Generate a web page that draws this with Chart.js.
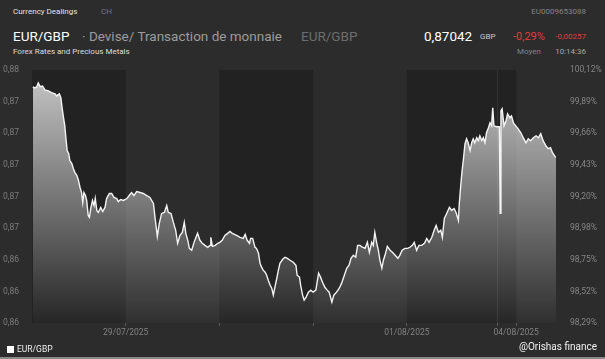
<!DOCTYPE html>
<html>
<head>
<meta charset="utf-8">
<script src="https://cdn.jsdelivr.net/npm/chart.js@4.4.1/dist/chart.umd.min.js"></script>
<style>
  html, body { margin: 0; padding: 0; background: #2c2c2c; }
  body { width: 605px; height: 359px; position: relative; overflow: hidden; font-family: Roboto, "Noto Sans", sans-serif; }
  #chart { position: absolute; left: 0; top: 0; }
  .t { position: absolute; white-space: nowrap; line-height: 1; }
  #legend { position: absolute; left: 7px; top: 345px; font-size: 8.5px; color: #eee; line-height: 1; }
  #legend i { display: inline-block; width: 7px; height: 7px; background: #fff; margin-right: 3px; vertical-align: -1px; }
  #strip { position: absolute; left: 0; top: 357px; width: 605px; height: 2px; background: #8a8a8a; }
</style>
</head>
<body>
<div class="t" style="left:13px;top:8px;font-size:8px;color:#e2e2e2">Currency Dealings</div>
<div class="t" style="left:101px;top:8px;font-size:8px;color:#7a7a7a">CH</div>
<div class="t" style="right:19px;top:8px;font-size:8px;color:#858585">EU0009653088</div>

<div class="t" style="left:13px;top:30px;font-size:13.5px;color:#fff">EUR/GBP</div>
<div class="t" style="left:82px;top:30px;font-size:13.5px;color:#9c9c9c">· Devise/ Transaction de monnaie</div>
<div class="t" style="left:301px;top:30px;font-size:13.5px;color:#6c6c6c">EUR/GBP</div>
<div class="t" style="left:424px;top:30px;font-size:13.5px;color:#fff">0,87042</div>
<div class="t" style="left:480px;top:32.5px;font-size:8px;color:#c8c8c8">GBP</div>
<div class="t" style="left:513px;top:30.5px;font-size:11px;color:#e23b3b">-0,29%</div>
<div class="t" style="right:19px;top:32.5px;font-size:8px;color:#e23b3b">-0,00257</div>

<div class="t" style="left:13px;top:48px;font-size:8px;color:#dcdcdc">Forex Rates and Precious Metals</div>
<div class="t" style="left:517px;top:48px;font-size:8px;color:#848484">Moyen</div>
<div class="t" style="right:19px;top:48px;font-size:8px;color:#a8a8a8">10:14:36</div>

<canvas id="chart" width="605" height="359"></canvas>

<div id="legend"><i></i>EUR/GBP</div>
<div class="t" style="right:8px;top:342px;font-size:10px;color:#f2f2f2">@Orishas finance</div>
<div id="strip"></div>

<script>
// trading hours since Mon 28/07/2025 00:00 (weekend squeezed out after the Friday close)
const hours = [
  0.2, 0.7, 1.2, 1.6, 2.1, 2.7, 3.3, 4.2, 5.0, 5.9,
  6.3, 7.0, 7.4, 7.7, 8.0, 8.4, 8.7, 9.0, 9.4, 9.7,
  10.2, 10.6, 11.0, 11.5, 11.9, 12.3, 12.7, 13.0, 13.3, 13.7,
  14.0, 14.4, 14.7, 15.1, 15.5, 15.9, 16.2, 16.6, 17.0, 17.6,
  18.1, 18.7, 19.1, 19.8, 20.4, 21.0, 21.7, 22.1, 22.7, 23.4,
  24.3, 24.9, 25.5, 26.1, 26.8, 27.7, 28.5, 29.4, 30.2, 31.1,
  31.5, 32.1, 32.6, 33.2, 33.9, 34.5, 34.9, 35.6, 36.2, 36.8,
  37.3, 37.9, 38.5, 39.0, 39.4, 39.9, 40.3, 40.9, 41.5, 42.0,
  42.4, 43.0, 43.6, 44.3, 45.0, 45.6, 45.8, 46.2, 46.9, 47.6,
  48.1, 48.7, 49.4, 50.1, 50.7, 51.3, 52.4, 53.3, 54.1, 54.6,
  55.1, 55.7, 56.0, 56.5, 57.1, 57.5, 58.0, 58.4, 58.8, 59.2,
  59.7, 60.1, 60.5, 61.0, 61.4, 61.8, 62.2, 62.7, 63.1, 63.5,
  64.2, 64.8, 65.4, 66.1, 66.9, 67.6, 67.9, 68.5, 68.8, 69.3,
  69.7, 70.2, 70.8, 71.4, 72.0, 72.7, 73.1, 73.4, 73.9, 74.4,
  75.0, 75.6, 76.1, 76.8, 77.3, 78.0, 78.7, 79.3, 80.0, 80.6,
  81.2, 81.7, 82.3, 82.9, 83.4, 84.0, 84.6, 85.3, 85.9, 86.4,
  87.0, 87.4, 87.8, 88.3, 88.7, 89.1, 89.6, 90.0, 90.4, 91.0,
  91.7, 92.3, 93.0, 93.7, 94.2, 94.8, 95.5, 96.2, 96.8, 97.4,
  97.9, 98.5, 99.1, 99.8, 100.5, 101.1, 101.7, 102.4, 103.0, 103.5,
  104.1, 104.7, 105.1, 105.6, 106.2, 106.9, 107.5, 108.1, 108.6, 109.2,
  109.4, 109.8, 110.1, 110.5, 110.9, 111.3, 111.7, 112.2, 112.6, 113.0,
  113.4, 113.9, 114.3, 114.7, 115.2, 115.6, 116.0, 116.4, 116.9, 117.3,
  117.7, 118.0, 118.3, 119.0, 119.7, 119.9, 120.1, 120.4, 120.9, 121.4,
  121.8, 122.4, 122.8, 123.3, 123.9, 124.5, 125.2, 125.8, 126.5, 127.1,
  127.7, 128.4, 129.1, 129.7, 130.3, 130.9, 131.6, 132.2, 132.8, 133.3,
  133.8, 134.2
];

const rates = [
  0.87393, 0.87387, 0.87393, 0.87418, 0.87395, 0.87399, 0.87374, 0.87368, 0.87357, 0.87349,
  0.87336, 0.87349, 0.87325, 0.87262, 0.87210, 0.87147, 0.87065, 0.86990, 0.86971, 0.86927,
  0.86908, 0.86876, 0.86851, 0.86832, 0.86801, 0.86757, 0.86725, 0.86662, 0.86725, 0.86706,
  0.86675, 0.86580, 0.86568, 0.86631, 0.86675, 0.86643, 0.86687, 0.86612, 0.86599, 0.86631,
  0.86605, 0.86631, 0.86687, 0.86719, 0.86719, 0.86694, 0.86687, 0.86668, 0.86681, 0.86675,
  0.86687, 0.86706, 0.86725, 0.86706, 0.86731, 0.86725, 0.86719, 0.86706, 0.86694, 0.86656,
  0.86568, 0.86448, 0.86530, 0.86593, 0.86599, 0.86643, 0.86599, 0.86593, 0.86536, 0.86486,
  0.86404, 0.86454, 0.86473, 0.86536, 0.86467, 0.86423, 0.86372, 0.86360, 0.86410, 0.86442,
  0.86467, 0.86423, 0.86404, 0.86391, 0.86379, 0.86391, 0.86442, 0.86385, 0.86391, 0.86404,
  0.86410, 0.86423, 0.86454, 0.86467, 0.86479, 0.86467, 0.86454, 0.86442, 0.86435, 0.86460,
  0.86423, 0.86404, 0.86435, 0.86435, 0.86379, 0.86372, 0.86341, 0.86278, 0.86253, 0.86234,
  0.86221, 0.86202, 0.86170, 0.86139, 0.86120, 0.86076, 0.86126, 0.86183, 0.86234, 0.86278,
  0.86303, 0.86316, 0.86309, 0.86297, 0.86284, 0.86265, 0.86202, 0.86190, 0.86139, 0.86076,
  0.86045, 0.86064, 0.86095, 0.86108, 0.86095, 0.86108, 0.86170, 0.86215, 0.86190, 0.86158,
  0.86126, 0.86108, 0.86095, 0.86032, 0.86076, 0.86095, 0.86120, 0.86152, 0.86202, 0.86246,
  0.86265, 0.86309, 0.86328, 0.86316, 0.86391, 0.86391, 0.86379, 0.86372, 0.86410, 0.86347,
  0.86410, 0.86391, 0.86473, 0.86404, 0.86360, 0.86297, 0.86246, 0.86297, 0.86328, 0.86385,
  0.86360, 0.86347, 0.86328, 0.86309, 0.86328, 0.86360, 0.86372, 0.86372, 0.86379, 0.86391,
  0.86410, 0.86360, 0.86391, 0.86391, 0.86404, 0.86435, 0.86410, 0.86442, 0.86486, 0.86517,
  0.86473, 0.86486, 0.86442, 0.86561, 0.86593, 0.86631, 0.86612, 0.86624, 0.86599, 0.86549,
  0.86643, 0.86769, 0.86851, 0.86939, 0.87034, 0.87065, 0.87040, 0.86990, 0.87040, 0.87065,
  0.87040, 0.87072, 0.87053, 0.87084, 0.87053, 0.87072, 0.87040, 0.87103, 0.87135, 0.87166,
  0.87147, 0.87261, 0.87147, 0.87141, 0.87141, 0.86593, 0.87242, 0.87254, 0.87147, 0.87179,
  0.87223, 0.87198, 0.87210, 0.87166, 0.87147, 0.87128, 0.87103, 0.87072, 0.87040, 0.87065,
  0.87053, 0.87072, 0.87084, 0.87072, 0.87097, 0.87053, 0.87021, 0.87002, 0.87009, 0.86977,
  0.86958, 0.86946
];

// day boundaries on the same hour scale: 28/07, 29/07, 30/07, 31/07, 01/08 (+ weekend), 04/08
const dayStarts = [0, 24, 48, 72, 96, 124];
const lastHour = 134.2;
const fridayClose = 119.1;
const dateLabels = { 24: '29/07/2025', 96: '01/08/2025', 124: '04/08/2025' };

const rateTicks = [0.859, 0.861, 0.863, 0.865, 0.867, 0.869, 0.871, 0.873, 0.875];
const rateLabels = ['0,86', '0,86', '0,86', '0,87', '0,87', '0,87', '0,87', '0,87', '0,88'];
const pctLabels = ['98,29%', '98,52%', '98,75%', '98,98%', '99,20%', '99,43%', '99,66%', '99,89%', '100,12%'];

const dayBands = {
  id: 'dayBands',
  beforeDatasetsDraw(chart) {
    const { ctx, chartArea: a, scales: { x } } = chart;
    ctx.save();
    ctx.fillStyle = '#222222';
    for (let i = 0; i < dayStarts.length; i += 2) {
      const x0 = x.getPixelForValue(dayStarts[i]);
      const x1 = x.getPixelForValue(i + 1 < dayStarts.length ? dayStarts[i + 1] : lastHour);
      ctx.fillRect(x0, a.top, x1 - x0, a.bottom - a.top);
    }
    ctx.restore();
  },
  afterDatasetsDraw(chart) {
    const { ctx, chartArea: a, scales: { x } } = chart;
    const px = Math.round(x.getPixelForValue(fridayClose)) + 0.5;
    ctx.save();
    ctx.strokeStyle = 'rgba(255,255,255,0.08)';
    ctx.lineWidth = 1;
    ctx.beginPath();
    ctx.moveTo(px, a.top);
    ctx.lineTo(px, a.bottom);
    ctx.stroke();
    ctx.restore();
  }
};

const fillGradient = (context) => {
  const { chart } = context;
  const a = chart.chartArea;
  if (!a) return 'rgba(255,255,255,0.3)';
  const g = chart.ctx.createLinearGradient(0, a.top, 0, a.bottom);
  g.addColorStop(0, 'rgba(255,255,255,0.75)');
  g.addColorStop(1, 'rgba(255,255,255,0.02)');
  return g;
};

const tickFont = { family: 'Roboto', size: 8.5 };

new Chart(document.getElementById('chart'), {
  type: 'line',
  data: {
    datasets: [{
      label: 'EUR/GBP',
      data: hours.map((h, i) => ({ x: h, y: rates[i] })),
      borderColor: '#f4f4f4',
      borderWidth: 1.4,
      backgroundColor: fillGradient,
      fill: 'start',
      tension: 0,
      pointRadius: 0
    }]
  },
  options: {
    responsive: false,
    animation: false,
    layout: { padding: { top: 70, left: 0, right: 0, bottom: 0 } },
    plugins: {
      legend: { display: false },
      tooltip: { enabled: false }
    },
    scales: {
      x: {
        type: 'linear',
        min: 0,
        max: lastHour,
        afterFit: (s) => { s.height = 36; },
        afterBuildTicks: (s) => {
          s.ticks = [24, 48, 72, 96, fridayClose, 124].map(v => ({ value: v }));
        },
        ticks: {
          color: '#828282',
          font: tickFont,
          padding: 2,
          maxRotation: 0,
          autoSkip: false,
          callback: (v) => dateLabels[v] || ''
        },
        grid: { drawOnChartArea: false, drawTicks: true, tickLength: 3, color: '#5a5a5a' },
        border: { display: false }
      },
      y: {
        position: 'left',
        min: rateTicks[0],
        max: rateTicks[rateTicks.length - 1],
        afterFit: (s) => { s.width = 32; },
        afterBuildTicks: (s) => { s.ticks = rateTicks.map(v => ({ value: v })); },
        ticks: {
          color: '#7c7c7c',
          font: tickFont,
          padding: 5,
          callback: (v, i) => rateLabels[i]
        },
        grid: { display: false },
        border: { display: false }
      },
      pct: {
        position: 'right',
        min: rateTicks[0],
        max: rateTicks[rateTicks.length - 1],
        afterFit: (s) => { s.width = 49; },
        afterBuildTicks: (s) => { s.ticks = rateTicks.map(v => ({ value: v })); },
        ticks: {
          color: '#858585',
          font: tickFont,
          padding: 6,
          callback: (v, i) => pctLabels[i]
        },
        grid: { display: false },
        border: { display: false }
      }
    }
  },
  plugins: [dayBands]
});
</script>
</body>
</html>
